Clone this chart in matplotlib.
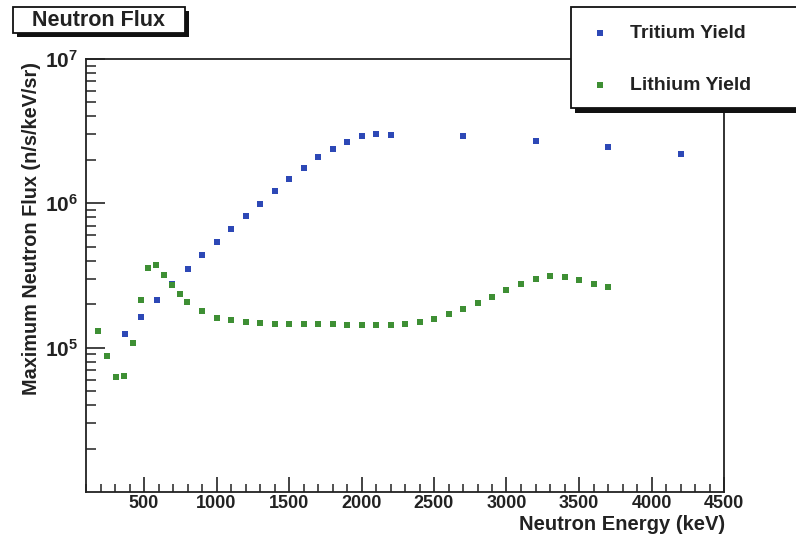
import matplotlib
matplotlib.use("Agg")
import matplotlib.pyplot as plt
from matplotlib.patches import Rectangle
from matplotlib.lines import Line2D
from matplotlib.ticker import FixedLocator, FixedFormatter, LogLocator, NullFormatter, MultipleLocator

plt.rcParams['font.family'] = ['Liberation Sans', 'DejaVu Sans']
plt.rcParams['mathtext.fontset'] = 'custom'
plt.rcParams['mathtext.rm'] = 'Liberation Sans'
plt.rcParams['mathtext.bf'] = 'Liberation Sans:bold'

# ---- data ----
tritium_energy = [370, 480, 590, 695, 800, 900, 1000, 1100, 1200, 1300, 1400, 1500,
                  1600, 1700, 1800, 1900, 2000, 2100, 2200, 2700, 3200, 3700, 4200]
tritium_flux = [1.24e5, 1.63e5, 2.14e5, 2.76e5, 3.53e5, 4.39e5, 5.37e5, 6.6e5, 8.13e5,
                9.95e5, 1.22e6, 1.48e6, 1.77e6, 2.08e6, 2.38e6, 2.66e6, 2.93e6, 3.03e6,
                2.99e6, 2.94e6, 2.69e6, 2.46e6, 2.19e6]

lithium_energy = [180, 245, 305, 365, 425, 480, 530, 585, 640, 695, 745, 795,
                  900, 1000, 1100, 1200, 1300, 1400, 1500, 1600, 1700, 1800, 1900,
                  2000, 2100, 2200, 2300, 2400, 2500, 2600, 2700, 2800, 2900, 3000,
                  3100, 3200, 3300, 3400, 3500, 3600, 3700]
lithium_flux = [1.31e5, 8.76e4, 6.27e4, 6.37e4, 1.07e5, 2.14e5, 3.58e5, 3.74e5, 3.17e5,
                2.72e5, 2.35e5, 2.08e5, 1.80e5, 1.61e5, 1.55e5, 1.51e5, 1.48e5, 1.47e5,
                1.47e5, 1.46e5, 1.46e5, 1.46e5, 1.44e5, 1.44e5, 1.44e5, 1.44e5, 1.46e5,
                1.51e5, 1.58e5, 1.71e5, 1.86e5, 2.03e5, 2.23e5, 2.49e5, 2.75e5, 3.0e5,
                3.14e5, 3.11e5, 2.94e5, 2.78e5, 2.64e5]

x_ticks = [500, 1000, 1500, 2000, 2500, 3000, 3500, 4000, 4500]
y_ticks = [1e5, 1e6, 1e7]
y_tick_labels = [r'$\mathbf{10^{5}}$', r'$\mathbf{10^{6}}$', r'$\mathbf{10^{7}}$']

title_text = "Neutron Flux"
series_names = ["Tritium Yield", "Lithium Yield"]
xlabel_text = "Neutron Energy (keV)"
ylabel_text = "Maximum Neutron Flux (n/s/keV/sr)"

BLUE = '#2d48b6'
GREEN = '#3e8f34'
INK = '#222222'

W, H = 796, 542
fig = plt.figure(figsize=(W / 100, H / 100), dpi=100)
fig.patch.set_facecolor('white')


def fx(x):
    return x / W


def fy(y):
    return 1 - y / H


L, R, T, B = 86, 724, 59, 492
ax = fig.add_axes([fx(L), fy(B), (R - L) / W, (B - T) / H])
ax.set_yscale('log')
ax.set_xlim(100, 4500)
ax.set_ylim(1e4, 1e7)

ax.plot(tritium_energy, tritium_flux, linestyle='none', marker='s', markersize=4.4,
        color=BLUE, markeredgewidth=0)
ax.plot(lithium_energy, lithium_flux, linestyle='none', marker='s', markersize=4.4,
        color=GREEN, markeredgewidth=0)

for s in ax.spines.values():
    s.set_linewidth(1.3)
    s.set_color(INK)

ax.xaxis.set_major_locator(FixedLocator(x_ticks))
ax.xaxis.set_minor_locator(MultipleLocator(100))
ax.set_xticklabels([str(v) for v in x_ticks], fontsize=13, fontweight='bold')
ax.yaxis.set_major_locator(FixedLocator(y_ticks))
ax.yaxis.set_major_formatter(FixedFormatter(y_tick_labels))
ax.yaxis.set_minor_locator(LogLocator(base=10, subs=[2, 3, 4, 5, 6, 7, 8, 9], numticks=20))
ax.yaxis.set_minor_formatter(NullFormatter())

ax.tick_params(axis='x', which='major', direction='in', length=11, width=1.2, pad=2,
               top=False, colors=INK, labelcolor=INK)
ax.tick_params(axis='x', which='minor', direction='in', length=5.5, width=1.1, top=False,
               colors=INK)
ax.tick_params(axis='y', which='major', direction='in', length=14, width=1.2, pad=6,
               right=False, labelsize=15, colors=INK, labelcolor=INK)
ax.tick_params(axis='y', which='minor', direction='in', length=7, width=1.1, right=False,
               colors=INK)

# axis titles
fig.text(fx(32), fy(228), ylabel_text, rotation=90, ha='center', va='center',
         fontsize=14.3, fontweight='bold', color=INK)
fig.text(fx(725), fy(524), xlabel_text, ha='right', va='center',
         fontsize=14.5, fontweight='bold', color=INK)

# title box with shadow
fig.add_artist(Rectangle((fx(17), fy(37)), (185 - 13) / W, (33 - 7) / H,
                         transform=fig.transFigure, facecolor='#111111', edgecolor='none'))
fig.add_artist(Rectangle((fx(13), fy(33)), (185 - 13) / W, (33 - 7) / H,
                         transform=fig.transFigure, facecolor='white', edgecolor='#111111',
                         linewidth=1.3))
fig.text(fx(99), fy(20.5), title_text, ha='center', va='center', fontsize=15.5,
         fontweight='bold', color=INK)

# legend box with shadow
fig.add_artist(Rectangle((fx(575), fy(113)), (820 - 575) / W, (113 - 12) / H,
                         transform=fig.transFigure, facecolor='#111111', edgecolor='none',
                         clip_on=False, zorder=5))
fig.add_artist(Rectangle((fx(571), fy(108)), (815 - 571) / W, (108 - 7) / H,
                         transform=fig.transFigure, facecolor='white', edgecolor='#111111',
                         linewidth=1.3, zorder=6))
for name, col, yy in [(series_names[0], BLUE, 33), (series_names[1], GREEN, 85)]:
    fig.add_artist(Line2D([fx(600)], [fy(yy)], transform=fig.transFigure, marker='s',
                          markersize=5, color=col, markeredgewidth=0, linestyle='none',
                          zorder=7))
    fig.text(fx(630), fy(yy), name, ha='left', va='center', fontsize=14,
             fontweight='bold', color=INK, zorder=7)

fig.savefig('out.png', dpi=100)
